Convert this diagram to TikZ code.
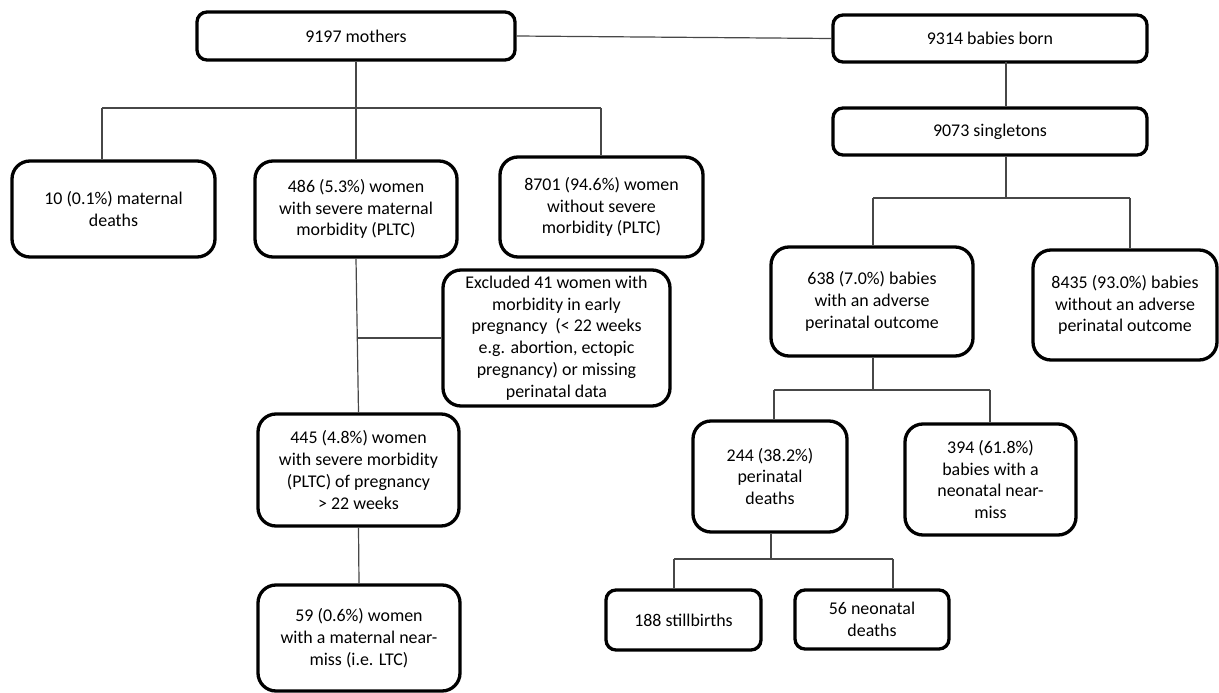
\documentclass[tikz,border=0pt]{standalone}
\usepackage{fontspec}
\setmainfont{Carlito}
\begin{document}
\begin{tikzpicture}[x=1pt,y=-1pt,
  box/.style={draw=black, line width=3.3pt, rounded corners=18pt, align=center, inner sep=0pt,
    font=\fontsize{17.9}{21.7}\selectfont},
  sbox/.style={box, rounded corners=10pt},
  conn/.style={line width=1.2pt, draw=black!72}]
\useasboundingbox (0,0) rectangle (1219,693);
% left side
\node[sbox, minimum width=318pt, minimum height=48pt] (mothers) at (356,36) {9197 mothers};
\node[box, minimum width=203pt, minimum height=96pt] (md) at (113.5,209) {10 (0.1\%) maternal\\deaths};
\node[box, minimum width=202pt, minimum height=96pt] (smm) at (356,209) {486 (5.3\%) women\\with severe maternal\\morbidity (PLTC)};
\node[box, minimum width=203pt, minimum height=100pt] (nsm) at (601.5,207) {8701 (94.6\%) women\\without severe\\morbidity (PLTC)};
\node[box, minimum width=227pt, minimum height=136pt] (excl) at (556.5,338) {Excluded 41 women with\\morbidity in early\\pregnancy~ (< 22 weeks\\e.g. abortion, ectopic\\pregnancy) or missing\\perinatal data};
\node[box, minimum width=201pt, minimum height=112pt] (w445) at (358.5,470) {445 (4.8\%) women\\with severe morbidity\\(PLTC) of pregnancy\\> 22 weeks};
\node[box, minimum width=202pt, minimum height=106pt] (w59) at (359,638) {59 (0.6\%) women\\with a maternal near-\\miss (i.e. LTC)};
% right side
\node[sbox, minimum width=314pt, minimum height=47pt] (babies) at (990,38.5) {9314 babies born};
\node[sbox, minimum width=314pt, minimum height=47pt] (single) at (990,131.5) {9073 singletons};
\node[box, minimum width=202pt, minimum height=109pt] (adv) at (872,301.5) {638 (7.0\%) babies\\with an adverse\\perinatal outcome};
\node[box, minimum width=184pt, minimum height=110pt] (nadv) at (1125,305) {8435 (93.0\%) babies\\without an adverse\\perinatal outcome};
\node[box, minimum width=154pt, minimum height=111pt] (pd) at (770,476.5) {244 (38.2\%)\\perinatal\\deaths};
\node[box, minimum width=171pt, minimum height=111pt] (nnm) at (990.5,479.5) {394 (61.8\%)\\babies with a\\neonatal near-\\miss};
\node[sbox, minimum width=155pt, minimum height=60pt] (sb) at (683.5,620) {188 stillbirths};
\node[sbox, minimum width=154pt, minimum height=59pt] (nd) at (872,619.5) {56 neonatal\\deaths};
% junction coordinates
\coordinate (jm) at (356,108);
\coordinate (jmL) at (102,108);
\coordinate (jmR) at (601,108);
\coordinate (jx) at (356.8,338);
\coordinate (jbTop) at (1006,62);
\coordinate (jb) at (1006,198);
\coordinate (jbL) at (873,198);
\coordinate (jbR) at (1130,198);
\coordinate (ja) at (873,390);
\coordinate (jaL) at (774,390);
\coordinate (jaR) at (990,390);
\coordinate (jp) at (771,559);
\coordinate (jpL) at (674,559);
\coordinate (jpR) at (893,559);
% connectors
\draw[conn] (mothers.east) -- (babies.west);
\draw[conn] (mothers.south) -- (jm);
\draw[conn] (jmL) -- (jmR);
\draw[conn] (jmL) -- (jmL |- md.north);
\draw[conn] (jm) -- (smm.north);
\draw[conn] (jmR) -- (jmR |- nsm.north);
\draw[conn] (smm.south) -- (w445.north);
\draw[conn] (jx) -- (excl.west);
\draw[conn] (w445.south) -- (w59.north);
\draw[conn] (jbTop) -- (jbTop |- single.north);
\draw[conn] (jbTop |- single.south) -- (jb);
\draw[conn] (jbL) -- (jbR);
\draw[conn] (jbL) -- (jbL |- adv.north);
\draw[conn] (jbR) -- (jbR |- nadv.north);
\draw[conn] (ja |- adv.south) -- (ja);
\draw[conn] (jaL) -- (jaR);
\draw[conn] (jaL) -- (jaL |- pd.north);
\draw[conn] (jaR) -- (jaR |- nnm.north);
\draw[conn] (jp |- pd.south) -- (jp);
\draw[conn] (jpL) -- (jpR);
\draw[conn] (jpL) -- (jpL |- sb.north);
\draw[conn] (jpR) -- (jpR |- nd.north);
\end{tikzpicture}
\end{document}
